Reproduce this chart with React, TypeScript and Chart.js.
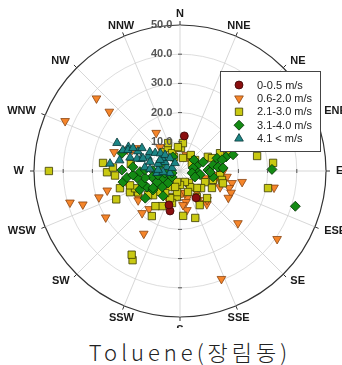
import React, { useEffect, useRef } from 'react';
import { Chart, registerables, PointElement } from 'chart.js';

Chart.register(...registerables);

// ---------- data ----------
const TITLE = 'Toluene(장림동)';
const COMPASS = ['N', 'NNE', 'NE', 'ENE', 'E', 'ESE', 'SE', 'SSE', 'S', 'SSW', 'SW', 'WSW', 'W', 'WNW', 'NW', 'NNW'];
const RADIAL_MIN = 0;
const RADIAL_MAX = 50;
const RADIAL_STEP = 10;
const DIR_RESOLUTION = 0.5; // degrees per radar category
const SPEED_CLASSES = ['0-0.5 m/s', '0.6-2.0 m/s', '2.1-3.0 m/s', '3.1-4.0 m/s', '4.1 < m/s'];

// [wind direction (deg, clockwise from N), concentration]
const calm: number[][] = [[7, 12.1], [194, 14.1], [198, 12.2], [149, 10.7]];

const light: number[][] = [
  [311, 37.9], [310, 31.6], [293.5, 42.9], [328, 15.4], [286, 23.5], [254, 39.2], [251, 35.2], [252, 29.2],
  [238, 30], [210, 24.8], [222, 19.4], [235, 17.5], [219, 16.8], [255, 18.4], [255, 25.8], [238, 16.9],
  [320, 10.7], [339, 6.6], [21, 5.9], [30, 5.5], [100, 21.6], [100, 32.7], [132, 26.7], [125, 40.6],
  [159, 39.6], [113, 19], [109, 17.8], [91, 14.7], [97, 16.2], [103, 18.3], [119, 18.9], [104, 12.4],
  [112, 14.8], [106, 8.9], [141, 9.3], [167, 7.7], [165, 9.6], [148, 11.7], [141, 14.6], [149, 12.7],
  [175, 11.7], [169, 10.8], [137, 13.6], [175, 7.6], [294, 17.9], [298, 16.7], [202, 10.7], [96, 13.1],
  [292, 19.5], [170, 13.6],
];

const moderate: number[][] = [
  [270, 44.9], [79, 26.9], [85, 32], [101, 30.7], [246, 23.9], [210, 33.1], [208, 34.6], [212, 18.2],
  [162, 16.9], [176, 15.4], [215, 14.7], [207, 13.5], [194, 11.3], [2.5, 7.9], [34, 6.6], [6, 9.6],
  [13, 4.6], [56, 4.9], [68, 11.8], [66, 15], [69, 17.6], [54, 6.4], [63, 10.7], [156, 4.1],
  [148, 6.5], [135, 8.2], [114, 9.4], [118, 12.4], [105, 11.7], [150, 13.5], [135, 13.1], [96, 13.8],
  [106, 15.3], [147, 10.6], [197, 5.7], [180, 4.8], [187, 9], [102, 14.7], [159, 7.7], [276, 26.5],
  [273, 23], [269, 25], [266, 22.3], [249, 16.5], [243, 16.1], [228, 12.4], [224, 9.9], [214, 9.1],
  [200, 9.9], [188, 7.3], [195, 3.9], [332, 8.9], [355, 8.2], [336, 6.7], [254, 17.8], [254, 21.4],
  [318, 8.7], [337, 10.4], [278, 17], [247, 18.6], [233, 13.7], [212, 6.5], [195, 9.2], [143, 5.1],
  [129, 9.3], [337, 5.2],
];

const fresh: number[][] = [
  [89, 31.5], [107, 41.3], [73, 19], [77, 4.6], [96, 6.2], [69, 8.5], [92, 10.3], [80, 11.5],
  [71, 13.4], [75, 14.9], [86, 14.8], [99, 4.2], [112, 5.5], [84, 13.1], [73, 6.0], [100, 7.0],
  [88, 9.6], [333, 5.4], [256, 2.8], [100, 11.5], [73, 16.5], [52, 6.1],
  [271, 19.9], [265, 16.2], [269, 13.7], [259, 12.2], [258, 9.8], [244, 8.7], [248, 6.3], [244, 12.6],
  [238, 10.9], [252, 13.6], [228, 8.2], [225, 5.8], [233, 3.4], [260, 7.7], [261, 14.9], [232, 15.1],
  [263, 18.3], [235, 11.3], [214, 10.3], [275, 16.2], [245, 15.2], [262, 5.2], [272, 12], [271, 9.3],
  [287, 7.2], [287, 20.8], [259, 19.9],
];

const strong: number[][] = [
  [294, 23.6], [276, 24.1], [290, 20.8], [292, 19.2], [296, 17.9], [301, 15.2], [295, 15.9], [285, 17.7],
  [286, 15.3], [289, 13.4], [287, 10.7], [306, 10.5], [299, 7.8], [301, 6], [322, 5.6], [317, 7.5],
  [288, 7.9], [287, 4.7], [291, 2.9], [274, 10.3], [276, 12.1], [273, 7.5], [294, 12], [328, 3.2],
  [267, 5.8], [259, 3.5], [287, 14], [302, 12.2], [306, 7.6], [265, 7.9], [295, 19.5], [280, 21], [312, 9],
];

const SERIES = [calm, light, moderate, fresh, strong];

// ---------- styles ----------
const MARKERS = [
  { pointStyle: 'circle', rotation: 0, radius: 4, bg: '#8a0f0f', border: '#3a0505', order: 0 },
  { pointStyle: 'triangle', rotation: 180, radius: 5, bg: '#f5852a', border: '#8a4410', order: 4 },
  { pointStyle: 'rect', rotation: 0, radius: 5.2, bg: '#c9c912', border: '#3a3a00', order: 3 },
  { pointStyle: 'rectRot', rotation: 0, radius: 5, bg: '#138a13', border: '#053005', order: 2 },
  { pointStyle: 'triangle', rotation: 0, radius: 5, bg: '#1c8585', border: '#073535', order: 1 },
];
const FONT = '"Liberation Sans", Arial, sans-serif';
const TICK_PAD = '            ';

const N_CAT = Math.round(360 / DIR_RESOLUTION);
const CATEGORIES = Array.from({ length: N_CAT }, (_, i) => String(i * DIR_RESOLUTION));
const PER_COMPASS = 22.5 / DIR_RESOLUTION;

function toLayers(points: number[][]) {
  const layers: (number | null)[][] = [];
  points.forEach(([deg, v]) => {
    const idx = Math.round((((deg % 360) + 360) % 360) / DIR_RESOLUTION) % N_CAT;
    let layer = layers.find((l) => l[idx] === null);
    if (!layer) {
      layer = new Array(N_CAT).fill(null);
      layers.push(layer);
    }
    layer[idx] = v;
  });
  return layers;
}

const compassPlugin = {
  id: 'compassDecor',
  afterDraw(chart: any) {
    const scale = chart.scales.r;
    const ctx = chart.ctx as CanvasRenderingContext2D;
    const R = scale.drawingArea;
    ctx.save();
    // rim ticks
    ctx.strokeStyle = '#333';
    ctx.lineWidth = 1;
    COMPASS.forEach((_, k) => {
      const a = scale.getPointPosition(k * PER_COMPASS, R);
      const b = scale.getPointPosition(k * PER_COMPASS, R + 4);
      ctx.beginPath();
      ctx.moveTo(a.x, a.y);
      ctx.lineTo(b.x, b.y);
      ctx.stroke();
    });
    // minor ticks on the cardinal axes
    ctx.strokeStyle = '#555';
    [0, 4, 8, 12].forEach((k) => {
      for (let v = RADIAL_STEP; v < RADIAL_MAX; v += RADIAL_STEP) {
        const p = scale.getPointPositionForValue(k * PER_COMPASS, v);
        const ang = (k * 22.5 * Math.PI) / 180;
        const px = Math.cos(ang) * 2;
        const py = Math.sin(ang) * 2;
        ctx.beginPath();
        ctx.moveTo(p.x - px, p.y - py);
        ctx.lineTo(p.x + px, p.y + py);
        ctx.stroke();
      }
    });
    // compass labels
    ctx.font = 'bold 11px ' + FONT;
    ctx.fillStyle = '#1a1a1a';
    COMPASS.forEach((name, k) => {
      const deg = k * 22.5;
      let align: CanvasTextAlign = 'center';
      let baseline: CanvasTextBaseline = 'alphabetic';
      let gap = 8;
      if (deg <= 22.5 || deg >= 337.5) {
        align = 'center'; baseline = 'alphabetic'; gap = 8;
      } else if (deg >= 157.5 && deg <= 202.5) {
        align = 'center'; baseline = 'top'; gap = 7;
      } else {
        align = deg < 180 ? 'left' : 'right'; baseline = 'middle'; gap = 10;
      }
      const p = scale.getPointPosition(k * PER_COMPASS, R + gap);
      ctx.textAlign = align;
      ctx.textBaseline = baseline;
      ctx.fillText(name, p.x, p.y);
    });
    // legend box
    const box = { left: 220.5, top: 71.5, width: 100, height: 80 };
    ctx.fillStyle = '#fff';
    ctx.fillRect(box.left, box.top, box.width, box.height);
    ctx.strokeStyle = '#444';
    ctx.lineWidth = 1;
    ctx.strokeRect(box.left, box.top, box.width, box.height);
    ctx.font = '11px ' + FONT;
    ctx.textAlign = 'left';
    ctx.textBaseline = 'middle';
    SPEED_CLASSES.forEach((label, i) => {
      const m = MARKERS[i];
      const y = 85 + i * 13.4;
      const pt: any = new (PointElement as any)({
        x: 239,
        y,
        options: {
          pointStyle: m.pointStyle,
          rotation: m.rotation,
          radius: m.radius,
          borderWidth: 0.8,
          backgroundColor: m.bg,
          borderColor: m.border,
        },
      });
      pt.draw(ctx);
      ctx.fillStyle = '#222';
      ctx.fillText(label, 257, y + 0.5);
    });
    ctx.restore();
  },
};

export default function App() {
  const ref = useRef<HTMLCanvasElement>(null);
  useEffect(() => {
    const datasets: any[] = [];
    SERIES.forEach((pts, c) => {
      const m = MARKERS[c];
      toLayers(pts).forEach((layer) => {
        datasets.push({
          label: SPEED_CLASSES[c],
          data: layer,
          showLine: false,
          fill: false,
          borderWidth: 0,
          pointStyle: m.pointStyle,
          pointRotation: m.rotation,
          pointRadius: m.radius,
          pointHoverRadius: m.radius,
          pointBackgroundColor: m.bg,
          pointBorderColor: m.border,
          pointBorderWidth: 0.8,
          order: m.order,
        });
      });
    });
    const chart = new Chart(ref.current as HTMLCanvasElement, {
      type: 'radar',
      data: { labels: CATEGORIES, datasets },
      plugins: [compassPlugin],
      options: {
        responsive: false,
        animation: false,
        events: [],
        devicePixelRatio: 1,
        layout: { padding: { left: 29, top: 20, right: 10, bottom: 42 } },
        plugins: { legend: { display: false }, tooltip: { enabled: false }, title: { display: false } },
        scales: {
          r: {
            min: RADIAL_MIN,
            max: RADIAL_MAX,
            startAngle: 0,
            ticks: {
              stepSize: RADIAL_STEP,
              z: 1,
              showLabelBackdrop: false,
              backdropPadding: 0,
              color: '#555',
              font: { family: FONT, size: 11, weight: 'bold' },
              callback: (v: any) => Number(v).toFixed(1) + TICK_PAD,
            },
            grid: {
              circular: true,
              color: (c: any) => (c.tick && c.tick.value === RADIAL_MAX ? '#333' : '#d4d4d4'),
              lineWidth: (c: any) => (c.tick && c.tick.value === RADIAL_MAX ? 1.2 : 0.8),
            },
            angleLines: {
              display: true,
              color: '#cdcdcd',
              lineWidth: (c: any) => (c.index % PER_COMPASS === 0 ? 0.8 : 0),
            },
            pointLabels: { display: false },
          },
        },
      } as any,
    });
    return () => chart.destroy();
  }, []);

  return (
    <div style={{ position: 'fixed', left: 0, top: 0, width: 342, height: 365, overflow: 'hidden', background: '#fff' }}>
      <canvas ref={ref} width={342} height={365} style={{ position: 'absolute', left: 0, top: 0, width: 342, height: 365 }} />
      <div
        style={{
          position: 'absolute', left: 0, top: 328, width: 342, height: 37, boxSizing: 'border-box',
          paddingLeft: 38, paddingTop: 10, background: '#fff', textAlign: 'center',
          font: '300 22px "Noto Sans CJK KR", sans-serif', lineHeight: '26px', letterSpacing: '4px', color: '#222',
          whiteSpace: 'nowrap',
        }}
      >
        {TITLE}
      </div>
    </div>
  );
}
